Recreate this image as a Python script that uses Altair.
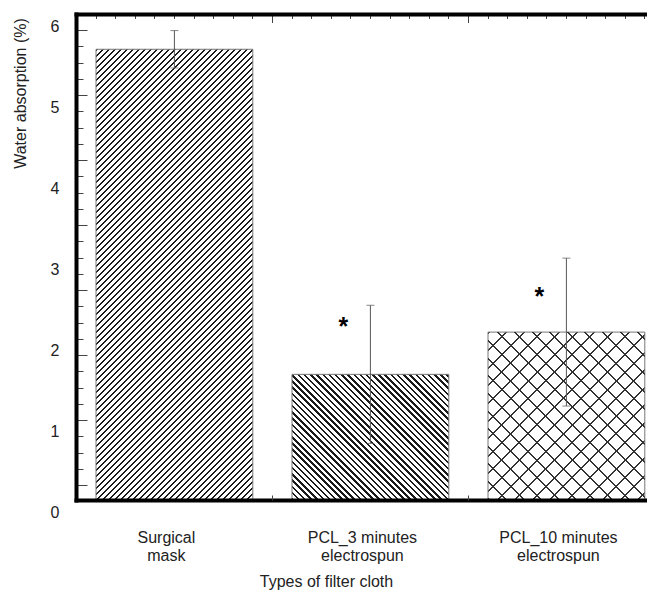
import altair as alt
import pandas as pd

# ---------------- data ----------------
categories = ["Surgical mask", "PCL_3 minutes electrospun", "PCL_10 minutes electrospun"]
means = [5.71, 1.71, 2.23]
errors = [0.23, 0.85, 0.91]
star_labels = ["", "*", "*"]
star_pos = [None, 2.38, 2.75]
y_tick_labels = [0, 1, 2, 3, 4, 5, 6]

# ---------------- layout constants ----------------
FONT = "Liberation Sans"
W, H = 571, 486
STEP = 196.0
PAD_IN = 0.2
N = len(categories)
PAD_OUT = ((W / STEP) - (N - PAD_IN)) / 2
ALIGN = 20 / (W - STEP * (N - PAD_IN))
Y0, Y1 = 0.164, 6.144
PX = H / (Y1 - Y0)
BAR_W = STEP * (1 - PAD_IN)

df = pd.DataFrame({"cat": categories, "mean": means, "err": errors})
df["lo"] = df["mean"] - df["err"]
df["hi"] = df["mean"] + df["err"]
stars = pd.DataFrame({"cat": categories, "star": star_labels, "pos": star_pos}).dropna()


def stripes(w, h, period, dark, fg, bg, direction):
    T = w + h
    L = (w * w + h * h) / T
    stops = []
    k = 0
    while True:
        a = k * period / T
        if a >= 1:
            break
        b = min((k * period + dark) / T, 1.0)
        stops += [(a, bg), (a, fg), (b, fg), (b, bg)]
        k += 1
    stops.append((1.0, bg))
    if direction == "/":
        x1, y1, x2, y2 = 0, 0, w / L, h / L
    else:
        x1, y1, x2, y2 = 0, 1, w / L, 1 - h / L
    return {"gradient": "linear", "x1": x1, "y1": y1, "x2": x2, "y2": y2,
            "stops": [{"offset": round(o, 5), "color": c} for o, c in stops]}


def bar_h(v):
    return (v - Y0) * PX


def xs():
    return alt.Scale(type="band", domain=categories, paddingInner=PAD_IN,
                     paddingOuter=PAD_OUT, align=ALIGN)


def ys():
    return alt.Scale(domain=[Y0, Y1], nice=False, zero=False)


y_tick_vals = [round(0.347 + 0.2 * k, 3) for k in range(29)]
major_vals = [v for i, v in enumerate(y_tick_vals) if i % 4 == 0]
major_test = "indexof([" + ",".join(repr(v) for v in major_vals) + "], datum.value) >= 0"

x_axis = alt.Axis(
    orient="bottom", ticks=False, domain=True, domainWidth=4, domainColor="black",
    domainCap="square", labelAngle=0, grid=False,
    labelExpr="datum.label == 'Surgical mask' ? ['Surgical', 'mask'] : "
              "[replace(datum.label, ' electrospun', ''), 'electrospun']",
    labelFont=FONT, labelFontSize=16, labelLineHeight=18, labelPadding=29, labelOffset=-8,
    labelColor="#222", title="Types of filter cloth", titleFont=FONT, titleFontSize=16,
    titleFontWeight="normal", titleColor="#222", titleX=250, titleY=81,
    titleBaseline="middle", titleAlign="center", zindex=2)

y_tick_axis = alt.Axis(
    orient="right", offset=-W, values=y_tick_vals, labels=False, domain=False, grid=False,
    title=None, ticks=True, tickColor="#444", tickWidth=1,
    tickSize={"condition": {"test": major_test, "value": 11}, "value": 7}, zindex=1)


def base_bar(cat, fill, stroke=True, axes=False):
    kw = dict(fill=fill)
    if stroke:
        kw.update(stroke="#777", strokeWidth=1)
    return alt.Chart(df).transform_filter(alt.datum.cat == cat).mark_bar(**kw).encode(
        x=alt.X("cat:N", scale=xs(), axis=x_axis if axes else None),
        y=alt.Y("mean:Q", scale=ys(), axis=y_tick_axis if axes else None),
        y2=alt.Y2Datum(Y0),
    )


h1, h2, h3 = bar_h(means[0]), bar_h(means[1]), bar_h(means[2])
bar1 = base_bar(categories[0], stripes(BAR_W, h1, 6.0, 2.5, "#1a1a1a", "#ffffff", "/"), axes=True)
bar2 = base_bar(categories[1], stripes(BAR_W, h2, 6.2, 2.5, "#1a1a1a", "#ffffff", "\\"))
bar3a = base_bar(categories[2], stripes(BAR_W, h3, 17.6, 2.0, "#333", "#ffffff", "/"))
bar3b = base_bar(categories[2], stripes(BAR_W, h3, 17.6, 2.0, "#333", "rgba(255,255,255,0)", "\\"),
                 stroke=False)

err_rule = alt.Chart(df).mark_rule(color="#555", strokeWidth=1).encode(
    x=alt.X("cat:N", scale=xs(), axis=None),
    y=alt.Y("lo:Q", scale=ys(), axis=None),
    y2="hi:Q",
)
cap_hi = alt.Chart(df).mark_tick(color="#555", size=8, thickness=1).encode(
    x=alt.X("cat:N", scale=xs(), axis=None),
    y=alt.Y("hi:Q", scale=ys(), axis=None),
)
cap_lo = alt.Chart(df).mark_tick(color="#555", size=8, thickness=1).encode(
    x=alt.X("cat:N", scale=xs(), axis=None),
    y=alt.Y("lo:Q", scale=ys(), axis=None),
)
star_text = alt.Chart(stars).mark_text(
    font=FONT, fontSize=25, fontWeight="bold", baseline="alphabetic", dx=-27, dy=15, color="black"
).encode(
    x=alt.X("cat:N", scale=xs(), axis=None),
    y=alt.Y("pos:Q", scale=ys(), axis=None),
    text="star:N",
)

# frame: top line with ticks + left axis with labels
top_vals = [round(0.1 * k, 1) for k in range(1, 30)]
frame = alt.Chart(df.head(1)).mark_point(opacity=0, size=0).encode(
    x=alt.X(datum=0, type="quantitative",
            scale=alt.Scale(domain=[0, W / STEP], nice=False, zero=False),
            axis=alt.Axis(orient="bottom", offset=-H, values=top_vals, labels=False, grid=False,
                          title=None, domain=True, domainWidth=4, domainColor="black",
                          domainCap="square", tickColor="#444", tickWidth=1,
                          tickSize={"condition": {"test": "datum.value == 1 || datum.value == 2",
                                                  "value": 8.5}, "value": 4.5},
                          zindex=2)),
    y=alt.Y(datum=0, type="quantitative",
            scale=alt.Scale(domain=[0, 6], nice=False, zero=False),
            axis=alt.Axis(orient="left", values=y_tick_labels, ticks=False, grid=False,
                          domain=True, domainWidth=4, domainColor="black", domainCap="square",
                          labelFont=FONT, labelFontSize=16, labelColor="#222", labelPadding=17,
                          labelOffset=12.5, title="Water absorption (%)", titleFont=FONT,
                          titleFontSize=16, titleFontWeight="normal", titleColor="#222",
                          titleAngle=270, titleX=-56, titleY=79, titleAlign="center",
                          titleBaseline="middle", zindex=2)),
)

bottom_ticks = alt.Chart(df.head(1)).mark_point(opacity=0, size=0).encode(
    x=alt.X(datum=0, type="quantitative",
            scale=alt.Scale(domain=[0, W / STEP], nice=False, zero=False),
            axis=alt.Axis(orient="top", offset=-H, values=[1, 2], labels=False, grid=False,
                          title=None, domain=False, tickColor="#444", tickWidth=1, tickSize=5,
                          zindex=2)),
)

chart = alt.layer(
    bar1, bar2, bar3a, bar3b, err_rule, cap_hi, cap_lo, star_text, frame, bottom_ticks
).resolve_scale(
    x="independent", y="independent"
).resolve_axis(
    x="independent", y="independent"
).properties(
    width=W, height=H,
    autosize=alt.AutoSizeParams(type="none"),
    padding={"left": 68, "top": 6, "right": 0, "bottom": 90},
    background="white",
).configure_view(stroke=None)

chart.save("out.html", embed_options={"renderer": "svg", "actions": False})
